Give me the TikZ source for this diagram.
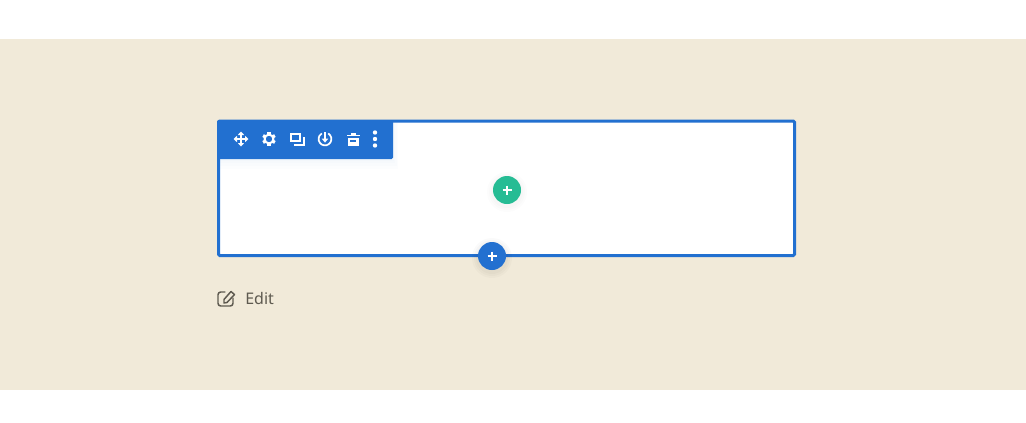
\documentclass[tikz,border=0pt]{standalone}
\usepackage{fontspec}
\setmainfont{Noto Sans}
\definecolor{bandcol}{HTML}{F1EAD9}
\definecolor{bluecol}{HTML}{2270D0}
\definecolor{greencol}{HTML}{26BC94}
\definecolor{editcol}{HTML}{5E5A50}
\tikzset{
  icon/.style = {draw=white, line width=1.5pt},
  plusbtn/.style = {circle, inner sep=0pt, outer sep=0pt, minimum size=21pt},
  plussign/.pic = {
    \draw[white, line width=1.5pt] (-4.5,0) -- (4.5,0) (0,-4.5) -- (0,4.5);
  },
  movepic/.pic = {
    \draw[icon, line width=1.2pt] (-5,0) -- (5,0) (0,-5) -- (0,5);
    \fill[white] (-7.5,0) -- (-4,-3.2) -- (-4,3.2) -- cycle;
    \fill[white] (7.5,0) -- (4,-3.2) -- (4,3.2) -- cycle;
    \fill[white] (0,-7.5) -- (-3.2,-4) -- (3.2,-4) -- cycle;
    \fill[white] (0,7.5) -- (-3.2,4) -- (3.2,4) -- cycle;
  },
  gearpic/.pic = {
    \draw[icon, line width=1.5pt] (0,0) circle (4.4);
    \foreach \a in {0,60,...,300}
      \draw[white, line width=2.4pt] (\a+30:4.6) -- (\a+30:6.8);
  },
  copypic/.pic = {
    \draw[icon] (-6,-5) rectangle (3,2);
    \draw[icon] (7,-2) -- (7,6) -- (-3,6);
  },
  powerpic/.pic = {
    \draw[icon, line width=1.3pt] (-60:6.4) arc (-60:240:6.4);
    \draw[icon, line width=1.3pt] (0,-7) -- (0,1);
    \fill[white] (-3.4,-0.5) -- (3.4,-0.5) -- (0,3.6) -- cycle;
  },
  trashpic/.pic = {
    \fill[white] (-6.5,-4.2) rectangle (6.5,-2.6);
    \fill[white] (-2.5,-6.5) rectangle (2.5,-4);
    \fill[white] (-5.5,-1.2) rectangle (5.5,7);
    \fill[bluecol] (-3.2,0.6) rectangle (3.2,2.6);
  },
  dotspic/.pic = {
    \foreach \y in {-6.5,0,6.5}
      \fill[white] (0,\y) circle (2.2);
  }
}
\begin{document}
\begin{tikzpicture}[x=0.75pt, y=-0.75pt]
  \useasboundingbox (0,0) rectangle (1026,422);
  \fill[bandcol] (0,39) rectangle (1026,390);

  % content box
  \node[draw=bluecol, fill=white, line width=2.25pt, rounded corners=1pt, inner sep=0pt, outer sep=0pt,
    minimum width=432pt, minimum height=100.9pt, anchor=north west] (box) at (218.5,121) {};

  % toolbar with soft shadow
  \foreach \s in {10,7,4,2}
    \fill[bluecol, opacity=0.012] (217,120) rectangle (393+\s*0.5,159+\s);
  \node[fill=bluecol, rounded corners=1pt, inner sep=0pt, outer sep=0pt, minimum width=132pt,
    minimum height=29.25pt, anchor=north west] (toolbar) at (217,120) {};
  \pic at (241,139) {movepic};
  \pic at (269,139) {gearpic};
  \pic at (297,139) {copypic};
  \pic at (325,139) {powerpic};
  \pic at (353,139) {trashpic};
  \pic at (375,139) {dotspic};

  % add buttons
  \foreach \s in {6,4,2}
    \fill[black, opacity=0.012] (507,192) circle (14+\s);
  \foreach \s in {6,4,2}
    \fill[black, opacity=0.02] (492,258) circle (14+\s);
  \node[plusbtn, fill=greencol] (addgreen) at (507,190) {};
  \pic at (507,190) {plussign};
  \node[plusbtn, fill=bluecol] (addblue) at (492,256) {};
  \pic at (492,256) {plussign};

  % edit link
  \draw[editcol, line width=1.1pt, line cap=round, line join=round, rounded corners=2pt]
    (225,292) -- (218,292) -- (218,306) -- (233,306) -- (233,298);
  \draw[editcol, line width=1.1pt, line join=round]
    (224,299.5) -- (231,291.5) -- (234.5,294.5) -- (227,302.5) -- (224,303) -- cycle;
  \node[text=editcol, font=\fontsize{12}{14}\selectfont, anchor=west, inner sep=0pt] (editlabel) at (245,298) {Edit};
\end{tikzpicture}
\end{document}
